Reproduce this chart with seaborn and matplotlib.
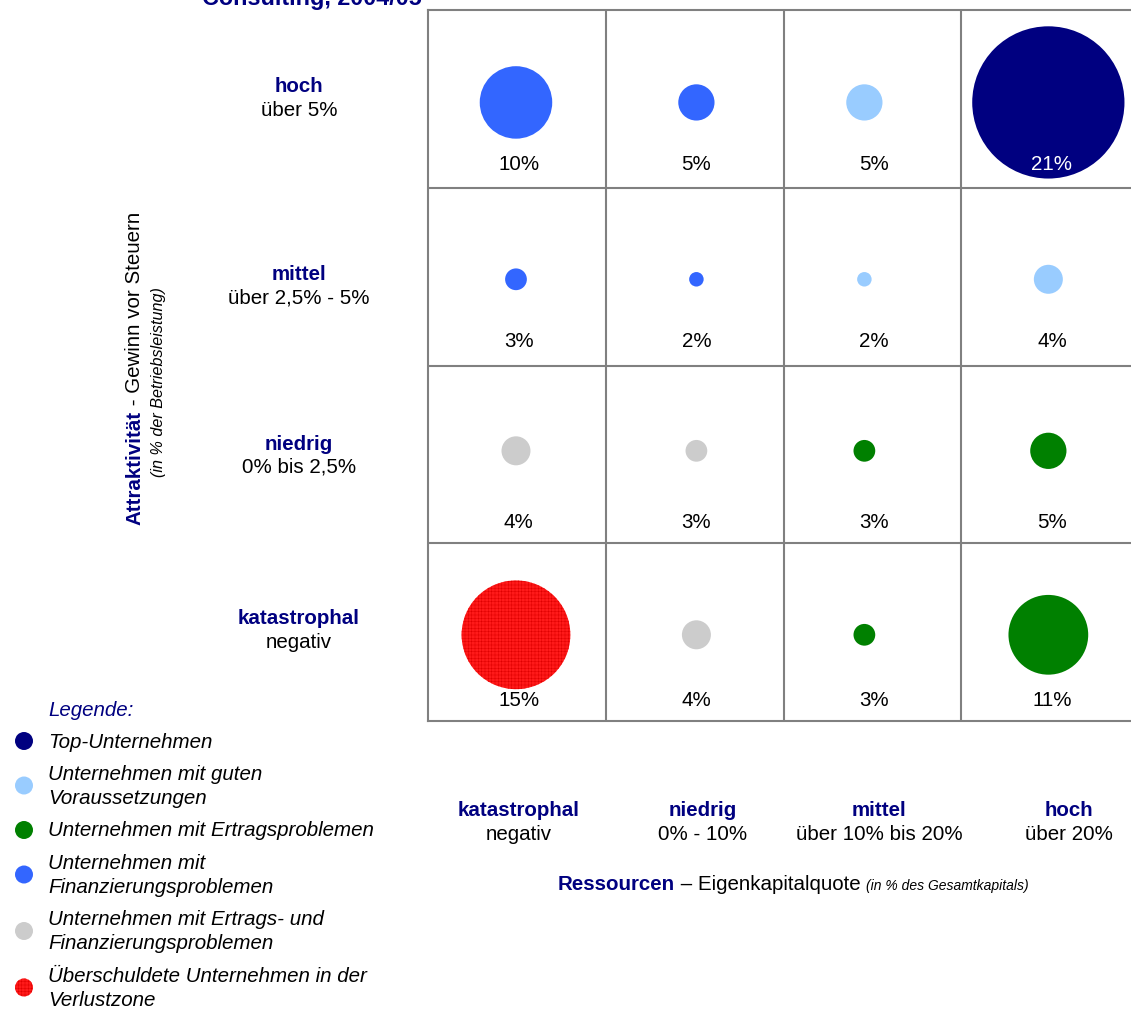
import numpy as np
import pandas as pd
import matplotlib
matplotlib.use("Agg")
import matplotlib.pyplot as plt
import seaborn as sns

# ---------------- data ----------------
title = "Consulting, 2004/05"
row_names = ["hoch", "mittel", "niedrig", "katastrophal"]
row_subs = ["über 5%", "über 2,5% - 5%", "0% bis 2,5%", "negativ"]
col_names = ["katastrophal", "niedrig", "mittel", "hoch"]
col_subs = ["negativ", "0% - 10%", "über 10% bis 20%", "über 20%"]

values_hoch = [10, 5, 5, 21]
values_mittel = [3, 2, 2, 4]
values_niedrig = [4, 3, 3, 5]
values_katastrophal = [15, 4, 3, 11]

groups_hoch = ["fin", "fin", "gut", "top"]
groups_mittel = ["fin", "fin", "gut", "gut"]
groups_niedrig = ["beide", "beide", "ertrag", "ertrag"]
groups_katastrophal = ["ueber", "beide", "ertrag", "ertrag"]

legend_keys = ["top", "gut", "ertrag", "fin", "beide", "ueber"]
legend_labels = [
    ["Top-Unternehmen"],
    ["Unternehmen mit guten", "Voraussetzungen"],
    ["Unternehmen mit Ertragsproblemen"],
    ["Unternehmen mit", "Finanzierungsproblemen"],
    ["Unternehmen mit Ertrags- und", "Finanzierungsproblemen"],
    ["Überschuldete Unternehmen in der", "Verlustzone"],
]

y_label_bold = "Attraktivität"
y_label_rest = " - Gewinn vor Steuern"
y_label_sub = "(in % der Betriebsleistung)"
x_label_bold = "Ressourcen"
x_label_rest = " – Eigenkapitalquote "
x_label_sub = "(in % des Gesamtkapitals)"

# ---------------- style ----------------
palette = {"top": "#000080", "gut": "#99ccff", "ertrag": "#008000",
           "fin": "#3366ff", "beide": "#cccccc", "ueber": "#ff1a1a"}
NAVY = "#000080"
GRID = "#808080"
HATCH_EDGE = "#e00000"

sns.set_theme(style="white")
plt.rcParams["font.family"] = ["Liberation Sans", "DejaVu Sans"]
plt.rcParams["hatch.linewidth"] = 0.35
FS = 14.8

W, H = 1131, 1012
fig = plt.figure(figsize=(W / 100, H / 100), dpi=100)

# overlay axes in pixel coordinates
axf = fig.add_axes([0, 0, 1, 1])
axf.set_xlim(0, W)
axf.set_ylim(H, 0)
axf.axis("off")

# main grid axes
cell = 177.75
left, top = 428, 11
ax = fig.add_axes([left / W, 1 - (top + 4 * cell) / H, 4 * cell / W, 4 * cell / H])
ax.set_xlim(0, 4)
ax.set_ylim(4, 0)
ax.set_xticks([])
ax.set_yticks([])
ax.set_facecolor("none")
for s in ax.spines.values():
    s.set_color(GRID)
    s.set_linewidth(1.5)
    s.set_visible(True)
for k in (1, 2, 3):
    ax.axvline(k, color=GRID, lw=1.5, zorder=1)
    ax.axhline(k, color=GRID, lw=1.5, zorder=1)

all_vals = [values_hoch, values_mittel, values_niedrig, values_katastrophal]
all_grps = [groups_hoch, groups_mittel, groups_niedrig, groups_katastrophal]
col_nudge = [-0.005, 0.01, -0.045, -0.01]
row_pos = [0.52, 0.515, 0.48, 0.515]
px_per_pct = 7.25  # circle diameter per percent (pixels)

recs = []
for r in range(4):
    for c in range(4):
        v = all_vals[r][c]
        d_pt = px_per_pct * v * 0.72
        recs.append(dict(x=c + 0.5 + col_nudge[c], y=r + row_pos[r], value=v,
                         group=all_grps[r][c], area=d_pt ** 2, r=r, c=c))
df = pd.DataFrame(recs)
plain = df[df.group != "ueber"]
hatched = df[df.group == "ueber"]
amin, amax = plain.area.min(), plain.area.max()
sns.scatterplot(data=plain, x="x", y="y", hue="group", palette=palette,
                size="area", sizes=(amin, amax), size_norm=(amin, amax),
                linewidth=0, legend=False, ax=ax, zorder=3)
sns.scatterplot(data=hatched, x="x", y="y", color=palette["ueber"],
                s=hatched.area.values, edgecolor=HATCH_EDGE, linewidth=0,
                hatch="+++++", legend=False, ax=ax, zorder=3)
ax.set_xlabel("")
ax.set_ylabel("")

lab_pos = [0.865, 0.86, 0.875, 0.88]
for _, row in df.iterrows():
    colr = "white" if row.group == "top" else "black"
    ax.text(row.c + 0.51, row.r + lab_pos[int(row.r)], f"{int(row.value)}%",
            ha="center", va="center", fontsize=FS, color=colr, zorder=5)

# row labels
row_bold_y = [86, 274, 444, 618]
row_sub_y = [110, 298, 467, 642]
for name, sub, yb, ys in zip(row_names, row_subs, row_bold_y, row_sub_y):
    axf.text(299, yb, name, ha="center", va="center", fontsize=FS,
             fontweight="bold", color=NAVY)
    axf.text(299, ys, sub, ha="center", va="center", fontsize=FS, color="black")

# column labels
col_x = [519, 703, 879, 1069]
for name, sub, xc in zip(col_names, col_subs, col_x):
    axf.text(xc, 811, name, ha="center", va="center", fontsize=FS,
             fontweight="bold", color=NAVY)
    axf.text(xc, 835, sub, ha="center", va="center", fontsize=FS, color="black")

# title (cut off at top, as in the reference)
axf.text(202, 5, title, ha="left", va="baseline", fontsize=16.8,
         fontweight="bold", color=NAVY)

fig.canvas.draw()
rend = fig.canvas.get_renderer()

# y-axis label (rotated, chained)
t1 = axf.text(135, 525, y_label_bold, rotation=90, rotation_mode="anchor",
              ha="left", va="center", fontsize=FS, fontweight="bold", color=NAVY)
h1 = t1.get_window_extent(rend).height
axf.text(135, 525 - h1, y_label_rest, rotation=90, rotation_mode="anchor",
         ha="left", va="center", fontsize=FS, color="black")
axf.text(158, 382, y_label_sub, rotation=90, ha="center", va="center",
         fontsize=11.6, fontstyle="italic", color="black")

# x-axis label (chained)
xt = 558
t = axf.text(xt, 885, x_label_bold, ha="left", va="center", fontsize=FS,
             fontweight="bold", color=NAVY)
xt += t.get_window_extent(rend).width
t = axf.text(xt, 885, x_label_rest, ha="left", va="center", fontsize=FS,
             color="black")
xt += t.get_window_extent(rend).width
axf.text(xt, 886, x_label_sub, ha="left", va="center", fontsize=10,
         fontstyle="italic", color="black")

# legend
axf.text(48, 711, "Legende:", ha="left", va="center", fontsize=FS,
         fontstyle="italic", color=NAVY)
line_h, gap = 24.0, 8.5
ytop = 730.0
leg_recs = []
for key, lines in zip(legend_keys, legend_labels):
    n = len(lines)
    for i, ln in enumerate(lines):
        axf.text(48, ytop + line_h * (i + 0.5), ln, ha="left", va="center",
                 fontsize=FS, fontstyle="italic", color="black")
    leg_recs.append(dict(x=24, y=ytop + n * line_h / 2, group=key))
    ytop += n * line_h + gap
ldf = pd.DataFrame(leg_recs)
msize = (18 * 0.72) ** 2
sns.scatterplot(data=ldf[ldf.group != "ueber"], x="x", y="y", hue="group",
                palette=palette, s=msize, linewidth=0, legend=False, ax=axf)
sns.scatterplot(data=ldf[ldf.group == "ueber"], x="x", y="y",
                color=palette["ueber"], s=msize, edgecolor=HATCH_EDGE,
                linewidth=0, hatch="+++++", legend=False, ax=axf)
axf.set_xlim(0, W)
axf.set_ylim(H, 0)
axf.axis("off")

fig.savefig("out.png", dpi=100)
